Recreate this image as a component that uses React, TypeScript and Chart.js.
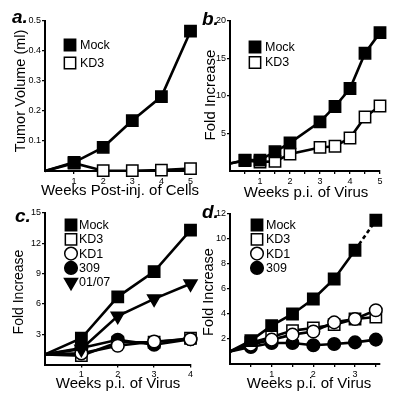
import React, { useEffect, useRef } from "react";
import { Chart, registerables } from "chart.js";
Chart.register(...registerables);

const FONT = "'Liberation Sans', Arial, Helvetica, sans-serif";

// ---------- Panel a data ----------
const aWeeks = [0, 1, 2, 3, 4, 5];
const aMock = [0, 0.029, 0.079, 0.168, 0.248, 0.466];
const aKD3 = [0, 0.026, 0.001, 0.001, 0.003, 0.008];
const aXTicks = [1, 2, 3, 4, 5];
const aYTicks = [0.1, 0.2, 0.3, 0.4, 0.5];

// ---------- Panel b data ----------
const bWeeks = [0, 0.5, 1, 1.5, 2, 3, 3.5, 4, 4.5, 5];
const bMock = [1.0, 1.46, 1.46, 2.57, 3.76, 6.55, 8.6, 11.0, 15.7, 18.45];
const bKD3 = [1.0, 1.4, 1.2, 1.28, 2.26, 3.14, 3.3, 4.4, 7.2, 8.67];
const bXTicks = [0.5, 1, 1.5, 2, 2.5, 3, 3.5, 4, 4.5, 5];
const bYTicks = [5, 10, 15, 20];

// ---------- Panel c data ----------
const cWeeks = [0, 1, 2, 3, 4];
const cMock = [1, 2.6, 6.7, 9.2, 13.3];
const cKD3 = [1, 0.88, 2.2, 2.2, 2.6];
const cKD1 = [1, 1.1, 1.86, 2.28, 2.5];
const c309 = [1, 1.63, 2.45, 1.96, 2.5];
const c0107 = [1, 1.53, 4.8, 6.5, 8.0];
const cXTicks = [1, 2, 3, 4];
const cYTicks = [3, 6, 9, 12, 15];

// ---------- Panel d data ----------
const dWeeks = [0, 0.5, 1, 1.5, 2, 2.5, 3, 3.5];
const dMock = [1, 1.87, 3.07, 4.0, 5.2, 6.8, 9.1, 11.5];
const dKD3 = [1, 1.7, 2.16, 2.67, 2.88, 3.15, 3.6, 3.76];
const dKD1 = [1, 1.55, 1.95, 2.35, 2.6, 3.33, 3.6, 4.3];
const d309 = [1, 1.36, 1.68, 1.68, 1.5, 1.6, 1.73, 1.95];
const dXTicks = [0.5, 1, 1.5, 2, 2.5, 3, 3.5];
const dYTicks = [2, 4, 6, 8, 10, 12];

type Style = "rect" | "circle" | "triangle";
type Series = {
  label: string;
  weeks: number[];
  values: number[];
  style: Style;
  filled: boolean;
  rotation?: number;
  dashLast?: boolean;
  order?: number;
};

const RADIUS: Record<Style, number> = { rect: 8, circle: 6.3, triangle: 7.5 };

type TextItem = {
  text: string;
  x: number;
  y: number;
  font: string;
  rotate?: boolean;
  align?: CanvasTextAlign;
  baseline?: CanvasTextBaseline;
};

type Panel = {
  id: string;
  px: number;
  py: number;
  area: { left: number; top: number; right: number; bottom: number };
  xMax: number;
  yMax: number;
  xTicks: number[];
  yTicks: number[];
  series: Series[];
  legend: { x: number; y: number; dy: number; tx: number };
  texts: TextItem[];
};

const TITLE = (s: number) => `${s}px ${FONT}`;
const LETTER = `italic bold 19px ${FONT}`;

const PANELS: Panel[] = [
  {
    id: "a",
    px: 0,
    py: 0,
    area: { left: 45, top: 21, right: 195, bottom: 171 },
    xMax: 5,
    yMax: 0.5,
    xTicks: aXTicks,
    yTicks: aYTicks,
    series: [
      { label: "Mock", weeks: aWeeks, values: aMock, style: "rect", filled: true },
      { label: "KD3", weeks: aWeeks, values: aKD3, style: "rect", filled: false },
    ],
    legend: { x: 70, y: 45, dy: 18, tx: 80 },
    texts: [
      { text: "a.", x: 12, y: 23, font: LETTER },
      { text: "Tumor Volume (ml)", x: 21, y: 91, font: TITLE(14.5), rotate: true },
      { text: "Weeks Post-inj. of Cells", x: 120, y: 195, font: TITLE(15), align: "center", baseline: "alphabetic" },
    ],
  },
  {
    id: "b",
    px: 200,
    py: 0,
    area: { left: 30, top: 21, right: 180, bottom: 171 },
    xMax: 5,
    yMax: 20,
    xTicks: bXTicks,
    yTicks: bYTicks,
    series: [
      { label: "Mock", weeks: bWeeks, values: bMock, style: "rect", filled: true },
      { label: "KD3", weeks: bWeeks, values: bKD3, style: "rect", filled: false },
    ],
    legend: { x: 55, y: 47, dy: 15.5, tx: 65 },
    texts: [
      { text: "b.", x: 2, y: 25, font: LETTER },
      { text: "Fold Increase", x: 11, y: 95, font: TITLE(15), rotate: true },
      { text: "Weeks p.i. of Virus", x: 106, y: 197, font: TITLE(15), align: "center", baseline: "alphabetic" },
    ],
  },
  {
    id: "c",
    px: 0,
    py: 200,
    area: { left: 45, top: 13, right: 194, bottom: 164.5 },
    xMax: 4,
    yMax: 15,
    xTicks: cXTicks,
    yTicks: cYTicks,
    series: [
      { label: "Mock", weeks: cWeeks, values: cMock, style: "rect", filled: true },
      { label: "KD3", weeks: cWeeks, values: cKD3, style: "rect", filled: false, order: 3 },
      { label: "KD1", weeks: cWeeks, values: cKD1, style: "circle", filled: false, order: 1 },
      { label: "309", weeks: cWeeks, values: c309, style: "circle", filled: true, order: 2 },
      { label: "01/07", weeks: cWeeks, values: c0107, style: "triangle", filled: true, rotation: 180 },
    ],
    legend: { x: 71, y: 25, dy: 14.3, tx: 79 },
    texts: [
      { text: "c.", x: 15, y: 22, font: LETTER },
      { text: "Fold Increase", x: 19, y: 92, font: TITLE(14), rotate: true },
      { text: "Weeks p.i. of Virus", x: 118, y: 188, font: TITLE(15), align: "center", baseline: "alphabetic" },
    ],
  },
  {
    id: "d",
    px: 200,
    py: 200,
    area: { left: 30, top: 14, right: 180, bottom: 164 },
    xMax: 3.6,
    yMax: 12,
    xTicks: dXTicks,
    yTicks: dYTicks,
    series: [
      { label: "Mock", weeks: dWeeks, values: dMock, style: "rect", filled: true, dashLast: true },
      { label: "KD3", weeks: dWeeks, values: dKD3, style: "rect", filled: false, order: 3 },
      { label: "KD1", weeks: dWeeks, values: dKD1, style: "circle", filled: false, order: 1 },
      { label: "309", weeks: dWeeks, values: d309, style: "circle", filled: true, order: 2 },
    ],
    legend: { x: 57, y: 25, dy: 14.3, tx: 66 },
    texts: [
      { text: "d.", x: 2, y: 18, font: LETTER },
      { text: "Fold Increase", x: 9, y: 92, font: TITLE(14.5), rotate: true },
      { text: "Weeks p.i. of Virus", x: 109, y: 188, font: TITLE(15), align: "center", baseline: "alphabetic" },
    ],
  },
];

function drawMarker(ctx: CanvasRenderingContext2D, style: Style, x: number, y: number, r: number, rotation: number) {
  ctx.beginPath();
  if (style === "rect") {
    const s = Math.SQRT1_2 * r;
    ctx.rect(x - s, y - s, 2 * s, 2 * s);
  } else if (style === "circle") {
    ctx.arc(x, y, r, 0, Math.PI * 2);
  } else {
    let rad = (rotation * Math.PI) / 180;
    ctx.moveTo(x + Math.sin(rad) * r, y - Math.cos(rad) * r);
    rad += (2 * Math.PI) / 3;
    ctx.lineTo(x + Math.sin(rad) * r, y - Math.cos(rad) * r);
    rad += (2 * Math.PI) / 3;
    ctx.lineTo(x + Math.sin(rad) * r, y - Math.cos(rad) * r);
    ctx.closePath();
  }
  ctx.fill();
  ctx.stroke();
}

const insetLegendPlugin = {
  id: "insetLegend",
  afterDraw(chart: any, _args: any, opts: any) {
    const p: Panel = opts.panel;
    if (!p) return;
    const ctx: CanvasRenderingContext2D = chart.ctx;
    ctx.save();
    p.series.forEach((s, i) => {
      const y = p.legend.y + i * p.legend.dy;
      ctx.fillStyle = s.filled ? "#000" : "#fff";
      ctx.strokeStyle = "#000";
      ctx.lineWidth = 1.5;
      drawMarker(ctx, s.style, p.legend.x, y, RADIUS[s.style], s.rotation || 0);
      ctx.fillStyle = "#000";
      ctx.font = `12.5px ${FONT}`;
      ctx.textAlign = "left";
      ctx.textBaseline = "middle";
      ctx.fillText(s.label, p.legend.tx, y + 0.5);
    });
    ctx.restore();
  },
};

const annotPlugin = {
  id: "annot",
  afterDraw(chart: any, _args: any, opts: any) {
    const p: Panel = opts.panel;
    if (!p) return;
    const ctx: CanvasRenderingContext2D = chart.ctx;
    ctx.save();
    ctx.fillStyle = "#000";
    p.texts.forEach((t) => {
      ctx.font = t.font;
      if (t.rotate) {
        ctx.save();
        ctx.translate(t.x, t.y);
        ctx.rotate(-Math.PI / 2);
        ctx.textAlign = "center";
        ctx.textBaseline = "middle";
        ctx.fillText(t.text, 0, 0);
        ctx.restore();
      } else {
        ctx.textAlign = t.align || "left";
        ctx.textBaseline = t.baseline || "alphabetic";
        ctx.fillText(t.text, t.x, t.y);
      }
    });
    ctx.restore();
  },
};

function PanelChart({ p }: { p: Panel }) {
  const ref = useRef<HTMLCanvasElement>(null);
  useEffect(() => {
    if (!ref.current) return;
    const tickFont = { family: FONT, size: 9 };
    const chart = new Chart(ref.current, {
      type: "line",
      data: {
        datasets: p.series.map((s) => {
          const fill = s.filled ? "#000" : "#fff";
          const n = s.weeks.length;
          return {
            label: s.label,
            data: s.weeks.map((w, i) => ({ x: w, y: s.values[i] })),
            borderColor: "#000",
            borderWidth: 2.6,
            backgroundColor: fill,
            pointStyle: s.style,
            pointRotation: s.rotation || 0,
            pointRadius: s.weeks.map((w) => (w === 0 ? 0 : RADIUS[s.style])),
            pointBorderWidth: 1.5,
            pointBackgroundColor: fill,
            pointBorderColor: "#000",
            tension: 0,
            fill: false,
            clip: false,
            order: s.order || 0,
            segment: s.dashLast
              ? { borderDash: (ctx: any) => (ctx.p1DataIndex === n - 1 ? [4, 3] : undefined) }
              : undefined,
          } as any;
        }),
      },
      options: {
        responsive: false,
        animation: false,
        events: [],
        layout: { padding: { left: 0, top: p.area.top, right: 200 - p.area.right, bottom: 0 } },
        plugins: {
          legend: { display: false },
          tooltip: { enabled: false },
          insetLegend: { panel: p },
          annot: { panel: p },
        } as any,
        scales: {
          x: {
            type: "linear",
            min: 0,
            max: p.xMax,
            afterFit: (s: any) => {
              s.height = 200 - p.area.bottom;
            },
            afterBuildTicks: (s: any) => {
              s.ticks = p.xTicks.map((v) => ({ value: v }));
            },
            ticks: {
              callback: (v: any) => (Number.isInteger(v) ? String(v) : ""),
              font: tickFont,
              color: "#000",
              padding: 2,
              maxRotation: 0,
              autoSkip: false,
            },
            grid: { drawOnChartArea: false, drawTicks: true, tickLength: 3, color: "#000", lineWidth: 1.3 },
            border: { display: true, color: "#000", width: 2 },
          },
          y: {
            type: "linear",
            min: 0,
            max: p.yMax,
            afterFit: (s: any) => {
              s.width = p.area.left;
            },
            afterBuildTicks: (s: any) => {
              s.ticks = p.yTicks.map((v) => ({ value: v }));
            },
            ticks: {
              callback: (v: any) => String(v),
              font: tickFont,
              color: "#000",
              padding: 1,
              autoSkip: false,
            },
            grid: { drawOnChartArea: false, drawTicks: true, tickLength: 3, color: "#000", lineWidth: 1.3 },
            border: { display: true, color: "#000", width: 2 },
          },
        },
      } as any,
      plugins: [insetLegendPlugin, annotPlugin],
    });
    return () => chart.destroy();
  }, [p]);
  return (
    <canvas
      ref={ref}
      width={200}
      height={200}
      style={{ position: "absolute", left: p.px, top: p.py, width: 200, height: 200 }}
    />
  );
}

export default function App() {
  return (
    <div style={{ position: "absolute", left: 0, top: 0, width: 400, height: 400, background: "#fff" }}>
      {PANELS.map((p) => (
        <PanelChart key={p.id} p={p} />
      ))}
    </div>
  );
}
